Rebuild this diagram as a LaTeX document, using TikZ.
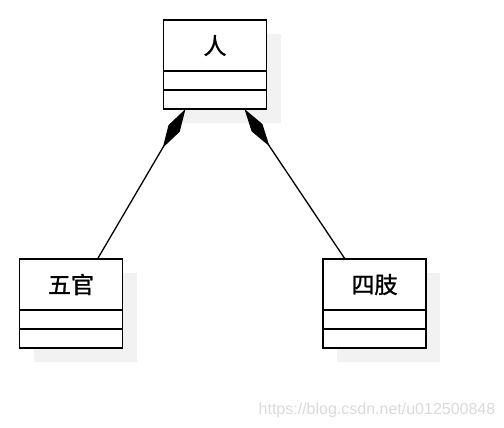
\documentclass[tikz,border=0pt]{standalone}
\usepackage{fontspec}
\setmainfont{Liberation Sans}
\newfontfamily\cjk{Noto Sans CJK SC}[FakeBold=1.2]
\usetikzlibrary{positioning,arrows.meta,backgrounds}
\definecolor{shadowgray}{HTML}{F2F2F2}
\definecolor{markgray}{HTML}{DADADA}

\begin{document}
\begin{tikzpicture}[x=1pt,y=-1pt,
	head/.style={rectangle,draw,fill=white,line width=1.6pt,outer sep=0pt,minimum width=103pt,minimum height=51pt,inner sep=0pt,font=\cjk\fontsize{23}{27}\selectfont},
	part/.style={rectangle,draw,fill=white,line width=1.6pt,outer sep=0pt,minimum width=103pt,minimum height=19pt,inner sep=0pt},
	shade/.style={fill=shadowgray},
	comp/.style={{Diamond[length=45pt,width=13pt]}-,line width=1.3pt}]
	\useasboundingbox (0,0) rectangle (504,428);

	\node[head] (ren) at (215,45.5) {人};
		\node[part,below=0pt of ren] (renA) {};
		\node[part,below=0pt of renA] (renB) {};

	\node[head] (wuguan) at (71,284.5) {五官};
		\node[part,below=0pt of wuguan] (wuguanA) {};
		\node[part,below=0pt of wuguanA] (wuguanB) {};

	\node[head] (sizhi) at (374.5,284.5) {四肢};
		\node[part,below=0pt of sizhi] (sizhiA) {};
		\node[part,below=0pt of sizhiA] (sizhiB) {};

	% shadows
	\begin{scope}[on background layer]
		\fill[shade] ([shift={(14,14)}]ren.north west) rectangle ([shift={(14,14)}]renB.south east);
		\fill[shade] ([shift={(14,14)}]wuguan.north west) rectangle ([shift={(14,14)}]wuguanB.south east);
		\fill[shade] ([shift={(14,14)}]sizhi.north west) rectangle ([shift={(14,14)}]sizhiB.south east);
	\end{scope}

	\coordinate (renL) at ([xshift=22pt]renB.south west);
	\coordinate (renR) at ([xshift=-22pt]renB.south east);
	\coordinate (wuguanT) at ([xshift=-25pt]wuguan.north east);
	\coordinate (sizhiT) at ([xshift=22pt]sizhi.north west);
		\path[comp] (renL) edge (wuguanT);
		\path[comp] (renR) edge (sizhiT);

	\node[text=markgray,font=\fontsize{16}{18}\selectfont] (mark) at (377,410) {https://blog.csdn.net/u012500848};
\end{tikzpicture}
\end{document}
